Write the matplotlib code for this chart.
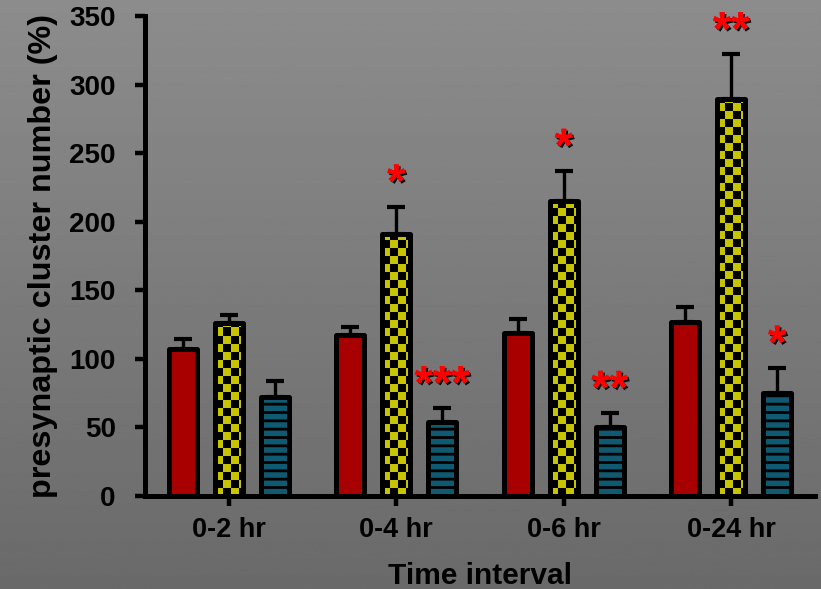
import numpy as np
import matplotlib
matplotlib.use('Agg')
import matplotlib.pyplot as plt
import matplotlib.patheffects as pe

categories = ['0-2 hr', '0-4 hr', '0-6 hr', '0-24 hr']
red_vals = [107, 117.5, 119, 127]
red_err = [7.5, 6, 10, 11]
yellow_vals = [126.5, 191, 215, 289.5]
yellow_err = [5.5, 20, 22, 32.5]
blue_vals = [72, 54, 50, 75]
blue_err = [12, 10, 10.5, 18.5]
yellow_sig = ['', '*', '*', '**']
blue_sig = ['', '***', '**', '*']
y_ticks = [0, 50, 100, 150, 200, 250, 300, 350]

plt.rcParams['font.family'] = ['Liberation Sans', 'DejaVu Sans']
plt.rcParams['font.weight'] = 'bold'
plt.rcParams['hatch.linewidth'] = 2.0

fig = plt.figure(figsize=(8.21, 5.89), dpi=100)

# background gradient
bg = fig.add_axes([0, 0, 1, 1], zorder=-10)
grad = np.linspace(0.55, 0.415, 256).reshape(-1, 1)
bg.imshow(grad, cmap='gray', vmin=0, vmax=1, aspect='auto', extent=[0, 1, 0, 1])
bg.set_axis_off()

ax = fig.add_axes([145/821, 1-496/589, (815-145)/821, (496-16)/589])
ax.set_facecolor('none')
ax.set_xlim(-0.5, 3.5)
ax.set_ylim(0, 350)

x = np.arange(len(categories))
off = 0.274
w = 0.167
lw_edge = 3.6

red_c = '#a80000'
yel_c = '#c8c400'
blue_c = '#0f5a70'

eb_kw = dict(fmt='none', ecolor='black', elinewidth=2.4, capsize=6.2, capthick=3.0, zorder=1)

ax.errorbar(x - off, red_vals, yerr=[np.zeros(4), red_err], **eb_kw)
ax.errorbar(x, yellow_vals, yerr=[np.zeros(4), yellow_err], **eb_kw)
ax.errorbar(x + off, blue_vals, yerr=[np.zeros(4), blue_err], **eb_kw)

rb = ax.bar(x - off, red_vals, w, color=red_c, edgecolor='black', linewidth=lw_edge, zorder=3)
yb = ax.bar(x, yellow_vals, w, color=yel_c, edgecolor='black', linewidth=lw_edge, zorder=3)
bb = ax.bar(x + off, blue_vals, w, color=blue_c, edgecolor='black', linewidth=lw_edge,
            hatch='--', zorder=3)
for b in list(rb) + list(yb) + list(bb):
    b.set_joinstyle('round')

# checker pattern in yellow bars
px_per_x = ax.transData.transform((1, 0))[0] - ax.transData.transform((0, 0))[0]
px_per_y = ax.transData.transform((0, 1))[1] - ax.transData.transform((0, 0))[1]
cell_x = 8.0 / px_per_x
cell_y = 8.0 / px_per_y
for b in yb:
    x0 = b.get_x()
    h = b.get_height()
    wd = b.get_width()
    ncol = int(np.ceil(wd / cell_x))
    nrow = int(np.ceil(h / cell_y))
    ii, jj = np.indices((nrow, ncol))
    chk = ((ii + jj) % 2).astype(float)
    rgb = np.zeros((nrow, ncol, 3))
    yel = np.array([0xc8, 0xc4, 0x00]) / 255.0
    rgb[chk == 0] = yel
    im = ax.imshow(rgb[::-1], extent=[x0, x0 + ncol * cell_x, 0, nrow * cell_y],
                   interpolation='nearest', aspect='auto', zorder=2.5)
    im.set_clip_path(b)
    b.set_facecolor('none')
    b.set_zorder(3)
ax.set_xlim(-0.5, 3.5)
ax.set_ylim(0, 350)

# significance stars
shadow = [pe.withSimplePatchShadow(offset=(1.3, -1.3), shadow_rgbFace='black', alpha=1.0),
          pe.Normal()]
def stars(xs, vals, errs, labels):
    for xi, v, e, s in zip(xs, vals, errs, labels):
        if s:
            ax.annotate(s, (xi, v + e), xytext=(0, 7), textcoords='offset points',
                        ha='center', va='baseline', fontsize=34, fontweight='bold',
                        color='#ff0000', path_effects=shadow, zorder=5,
                        annotation_clip=False)
stars(x, yellow_vals, yellow_err, yellow_sig)
stars(x + off, blue_vals, blue_err, blue_sig)

for sp in ['top', 'right']:
    ax.spines[sp].set_visible(False)
for sp in ['left', 'bottom']:
    ax.spines[sp].set_linewidth(3.6)
    ax.spines[sp].set_color('black')

ax.set_yticks(y_ticks)
ax.set_yticklabels([str(t) for t in y_ticks])
ax.set_xticks(x)
ax.set_xticklabels(categories)
ax.tick_params(axis='y', direction='out', length=7, width=3.2, labelsize=20, pad=14, colors='black')
ax.tick_params(axis='x', direction='out', length=7, width=3.2, labelsize=19.5, pad=8, colors='black')

ax.set_ylabel('presynaptic cluster number (%)', fontsize=23.3, fontweight='bold', labelpad=8)
ax.set_xlabel('Time interval', fontsize=21.5, fontweight='bold', labelpad=14)

fig.savefig('out.png', dpi=100)
